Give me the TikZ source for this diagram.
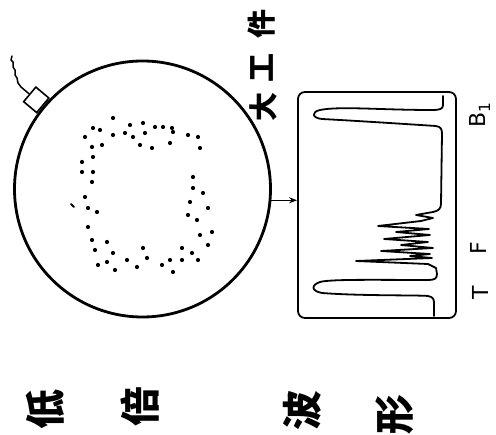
\documentclass[tikz,border=0pt]{standalone}
\usepackage{fontspec}
\newfontfamily\cjk{Noto Sans CJK SC}
\setsansfont{DejaVu Sans}
\usetikzlibrary{arrows.meta}
\begin{document}
\begin{tikzpicture}[x=1pt,y=-1pt,
  ink/.style={line cap=round,line join=round},
  bigchar/.style={rotate=90,inner sep=0pt,font=\cjk\bfseries\fontsize{40}{40}\selectfont},
  midchar/.style={rotate=90,inner sep=0pt,font=\cjk\bfseries\fontsize{29}{29}\selectfont},
  peaklabel/.style={rotate=90,inner sep=0pt,font=\sffamily\fontsize{22}{22}\selectfont}]
\useasboundingbox (0,0) rectangle (496,435);

% workpiece seen from above
\node[draw,circle,line width=2.8pt,minimum size=256pt,inner sep=0pt] (disc) at (142.5,189) {};

% probe on the rim and its cable
\node[draw,line width=1.6pt,fill=white,minimum width=19pt,minimum height=17pt,
      inner sep=0pt,rotate=50,anchor=south] (probe) at (disc.140) {};
\coordinate (lead) at (12,56);
\draw[ink,line width=1.5pt] (probe.north) -- (21,87) -- (18,83) -- (17,78) -- (15,75)
  -- (15,70) -- (13,67) -- (13,62) -- (11,60) -- (lead);

% defect indications forming a ring
\foreach \x/\y in {113/118,93/128,100/130,130/125,143/123,155/127,163/127,172/128,173/132,
  85/137,113/135,125/133,133/137,145/133,188/135,198/137,92/147,102/145,140/145,152/148,
  170/143,200/148,93/157,82/162,82/172,93/172,193/177,92/182,193/188,203/193,85/197,
  88/208,97/212,190/202,208/208,188/215,197/220,88/227,212/232,200/235,92/240,107/242,
  208/245,95/250,113/253,143/248,182/248,192/253,127/260,147/258,170/260,182/260,198/260,
  98/265,107/262,137/267,162/265,115/270,173/272}
  \fill (\x,\y) circle[radius=2.1pt];
\draw[line width=1.9pt,line cap=round] (71,204) -- (74,207);

% oscilloscope screen
\node[draw,line width=1.8pt,rounded corners=7pt,minimum width=158pt,minimum height=226pt,
      inner sep=0pt] (screen) at (377,205) {};
\draw[-{Stealth[length=8pt,width=6pt]},line width=1.4pt] (disc.-5) -- (disc.-5 -| screen.west);

% trace: back echo, flaw echoes, initial pulse
\draw[ink,line width=1.8pt]
  (443,96) -- (443,105) .. controls (443,109) and (440,110) .. (432,110)
  .. controls (380,110) and (340,106) .. (320,110)
  .. controls (311,112) and (312,118) .. (322,119)
  .. controls (360,121) and (420,125) .. (436,126)
  .. controls (441,127) and (442,129) .. (442,134)
  -- (441,204) .. controls (441,209) and (438,211) .. (433,212)
  -- (416,215) -- (433,218) -- (421,221) -- (378,226) -- (429,229) -- (396,232)
  -- (430,235) -- (384,239) -- (428,242) -- (401,245) -- (433,248) -- (381,251)
  -- (430,254) -- (410,256) -- (432,258) -- (356,261) -- (428,264) -- (436,268)
  -- (437,274) .. controls (437,279) and (434,280) .. (428,280)
  .. controls (380,280) and (330,279) .. (320,282)
  .. controls (311,285) and (311,291) .. (322,293)
  .. controls (360,296) and (420,295) .. (428,296)
  .. controls (433,297) and (434,299) .. (434,303) -- (434,316);

% echo labels
\node[peaklabel] (lblT) at (480,293) {T};
\node[peaklabel] (lblF) at (478,248) {F};
\node[peaklabel] (lblB) at (480,115) {B\textsubscript{1}};

% captions
\node[midchar] (big) at (263,107) {大};
\node[midchar] (work) at (262,68) {工};
\node[midchar] (piece) at (262,24) {件};
\node[bigchar] (low) at (45,410) {低};
\node[bigchar] (mag) at (140,407) {倍};
\node[bigchar] (wav) at (302,411) {波};
\node[bigchar] (form) at (395,415) {形};
\end{tikzpicture}
\end{document}
